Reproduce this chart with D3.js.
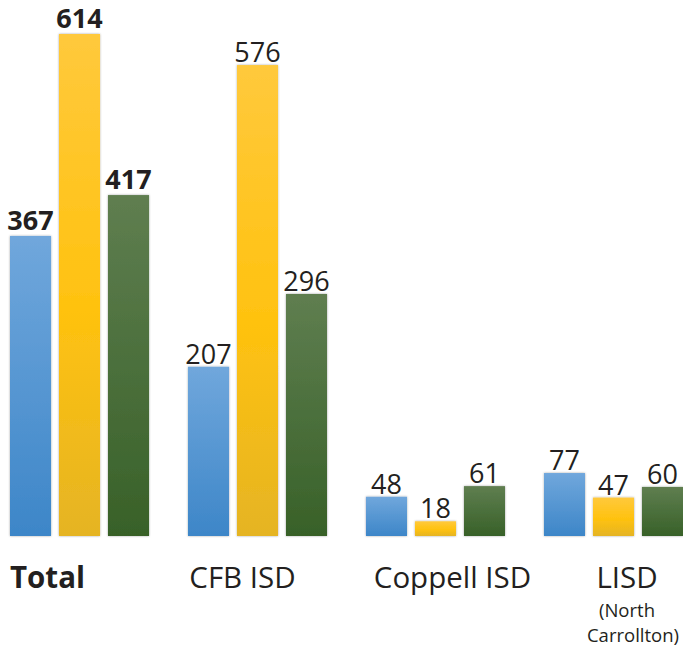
<!DOCTYPE html>
<html>
<head>
<meta charset="utf-8">
<script src="https://cdn.jsdelivr.net/npm/d3@7"></script>
<style>
  body { margin: 0; background: #fff; }
  text { font-family: "Open Sans", sans-serif; fill: #231f20; }
</style>
</head>
<body>
<script>
// data
const categories = ["Total", "CFB ISD", "Coppell ISD", "LISD"];
const subLabels = [[], [], [], ["(North", "Carrollton)"]];
const seriesNames = ["blue", "yellow", "green"];
const blueValues = [367, 207, 48, 77];
const yellowValues = [614, 576, 18, 47];
const greenValues = [417, 296, 61, 60];

// sizes
const width = 683, height = 646;
const baseline = 536;

const svg = d3.select("body").append("svg")
  .attr("width", width)
  .attr("height", height);

const defs = svg.append("defs");

// gradients for the bars
const grads = {
  blue: [["0%", "#70a7dc"], ["100%", "#3d86c8"]],
  yellow: [["0%", "#ffc93c"], ["55%", "#ffc20f"], ["100%", "#e5b424"]],
  green: [["0%", "#5f7e50"], ["100%", "#386128"]]
};
seriesNames.forEach(function (s) {
  const g = defs.append("linearGradient")
    .attr("id", "grad-" + s)
    .attr("x1", 0).attr("y1", 0).attr("x2", 0).attr("y2", 1);
  grads[s].forEach(function (st) {
    g.append("stop").attr("offset", st[0]).attr("stop-color", st[1]);
  });
});

const shadow = defs.append("filter").attr("id", "shadow")
  .attr("x", "-10%").attr("y", "-10%").attr("width", "120%").attr("height", "120%");
shadow.append("feDropShadow")
  .attr("dx", 0).attr("dy", 0).attr("stdDeviation", 1)
  .attr("flood-color", "#000").attr("flood-opacity", 0.35);

// scales
const x0 = d3.scaleBand().domain(categories).range([10, 683]).paddingInner(0.219);
const x1 = d3.scaleBand().domain(seriesNames).range([0, x0.bandwidth()]).paddingInner(0.163);
const y = d3.scaleLinear().domain([0, 614]).range([baseline, 34]);

const rows = categories.map(function (c, i) {
  return {
    cat: c,
    vals: [
      { s: "blue", v: blueValues[i] },
      { s: "yellow", v: yellowValues[i] },
      { s: "green", v: greenValues[i] }
    ]
  };
});

const group = svg.selectAll(".grp")
  .data(rows)
  .enter()
  .append("g")
  .attr("class", "grp")
  .attr("transform", (d) => "translate(" + x0(d.cat) + ",0)");

group.selectAll("rect")
  .data((d) => d.vals)
  .enter()
  .append("rect")
  .attr("x", (d) => x1(d.s))
  .attr("y", (d) => y(d.v))
  .attr("width", x1.bandwidth())
  .attr("height", (d) => baseline - y(d.v))
  .attr("fill", (d) => "url(#grad-" + d.s + ")")
  .attr("filter", "url(#shadow)");

// value labels (Total is bold)
group.each(function (d, i) {
  const bold = i === 0;
  d3.select(this).selectAll(".val")
    .data(d.vals)
    .enter()
    .append("text")
    .attr("class", "val")
    .attr("x", (v) => x1(v.s) + x1.bandwidth() / 2)
    .attr("y", (v) => y(v.v) - (bold ? 6 : 3))
    .attr("text-anchor", "middle")
    .style("font-size", "27px")
    .style("font-weight", bold ? 700 : 400)
    .text((v) => v.v);
});

// category labels, shifted a bit like the original
const labelShift = [null, -15, 17, 13.5];
categories.forEach(function (c, i) {
  const cx = x0(c) + x0.bandwidth() / 2;
  const t = svg.append("text")
    .attr("y", 588)
    .style("font-size", "29.5px")
    .text(c);
  if (i === 0) {
    t.attr("x", x0(c)).style("font-weight", 700);
  } else {
    t.attr("x", cx + labelShift[i]).attr("text-anchor", "middle");
  }
  subLabels[i].forEach(function (s, j) {
    svg.append("text")
      .attr("x", cx + labelShift[i] + (j === 0 ? 0 : 6))
      .attr("y", 617 + j * 25)
      .attr("text-anchor", "middle")
      .style("font-size", "18.5px")
      .text(s);
  });
});
</script>
</body>
</html>
